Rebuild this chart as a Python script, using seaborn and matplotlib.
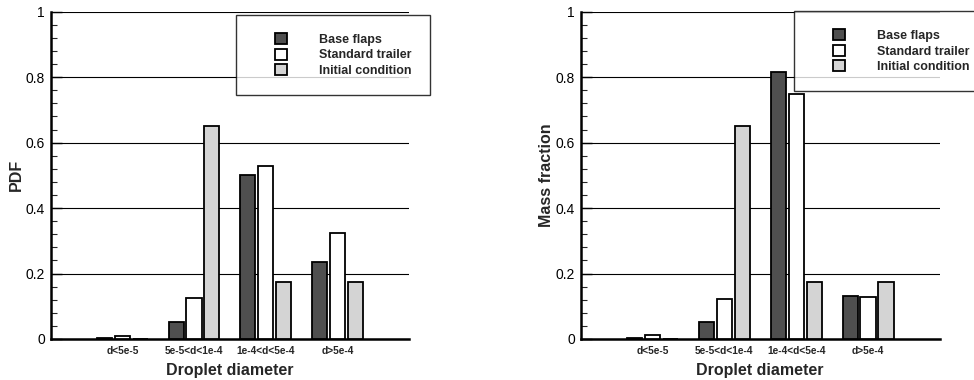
import numpy as np
import pandas as pd
import seaborn as sns
import matplotlib.pyplot as plt
from matplotlib.ticker import MultipleLocator
from matplotlib.patches import Rectangle
from matplotlib.legend_handler import HandlerPatch

# droplet size classes and cases
categories = ["d<5e-5", "5e-5<d<1e-4", "1e-4<d<5e-4", "d>5e-4"]
cases = ["Base flaps", "Standard trailer", "Initial condition"]

# PDF values (left panel)
pdf_base = [0.003, 0.052, 0.500, 0.235]
pdf_standard = [0.008, 0.125, 0.530, 0.325]
pdf_initial = [0.0, 0.650, 0.175, 0.175]

# mass fraction values (right panel)
mass_base = [0.003, 0.053, 0.815, 0.130]
mass_standard = [0.013, 0.122, 0.750, 0.128]
mass_initial = [0.0, 0.650, 0.175, 0.175]

colors = ["#4f4f4f", "#ffffff", "#d4d4d4"]


def make_frame(base, standard, initial):
    rows = []
    for case, vals in zip(cases, [base, standard, initial]):
        for cat, v in zip(categories, vals):
            rows.append({"cat": cat, "case": case, "value": v})
    return pd.DataFrame(rows)


def square_patch(legend, orig_handle, xdescent, ydescent, width, height, fontsize):
    # small square pushed to the right end of the handle box
    side = 1.0 * fontsize
    return Rectangle((-xdescent + width - side, -ydescent), side, height)


sns.set_theme(style="white")
plt.rcParams["font.family"] = ["Liberation Sans", "DejaVu Sans"]

fig = plt.figure(figsize=(9.74, 3.8), dpi=100)
ax1 = fig.add_axes([0.052, 0.108, 0.368, 0.861])
ax2 = fig.add_axes([0.596, 0.108, 0.369, 0.861])

panels = [
    (ax1, make_frame(pdf_base, pdf_standard, pdf_initial), "PDF", (0.517, 0.99)),
    (ax2, make_frame(mass_base, mass_standard, mass_initial), "Mass fraction", (0.594, 1.002)),
]

for ax, df, ylabel, leg_pos in panels:
    sns.barplot(data=df, x="cat", y="value", hue="case", palette=colors,
                edgecolor="black", linewidth=1.3, width=0.75, gap=0.16,
                saturation=1, ax=ax, zorder=3)
    ax.set_xlim(-1, 4)
    ax.set_ylim(0, 1)
    ax.yaxis.set_major_locator(MultipleLocator(0.2))
    ax.yaxis.set_minor_locator(MultipleLocator(0.04))
    ax.set_yticks([0, 0.2, 0.4, 0.6, 0.8, 1.0])
    ax.set_yticklabels(["0", "0.2", "0.4", "0.6", "0.8", "1"])
    ax.yaxis.grid(True, which="major", color="black", linewidth=0.8, zorder=0)
    ax.set_axisbelow(True)
    ax.tick_params(axis="y", which="major", direction="in", length=8, width=1,
                   left=True, labelsize=10, pad=4, colors="black")
    ax.tick_params(axis="y", which="minor", direction="in", length=4, width=0.8, left=True)
    ax.tick_params(axis="x", length=0, labelsize=7.3, pad=5)
    for lbl in ax.get_xticklabels():
        lbl.set_fontweight("bold")
    for side in ["top", "right"]:
        ax.spines[side].set_visible(False)
    for side in ["left", "bottom"]:
        ax.spines[side].set_color("black")
        ax.spines[side].set_linewidth(1.8)
    ax.set_xlabel("Droplet diameter", fontsize=11.5, fontweight="bold", labelpad=5)
    ax.set_ylabel(ylabel, fontsize=11.5, fontweight="bold", labelpad=1)

    handles, labels = ax.get_legend_handles_labels()
    leg = ax.legend(handles, labels, loc="upper left", bbox_to_anchor=leg_pos,
                    frameon=True, fancybox=False, shadow=False, edgecolor="black",
                    prop={"weight": "bold", "size": 9},
                    handler_map={h: HandlerPatch(patch_func=square_patch) for h in handles},
                    handlelength=2.65, handleheight=1.0, handletextpad=2.55,
                    labelspacing=0.2, borderpad=1.45, borderaxespad=0)
    leg.get_frame().set_linewidth(1.0)
    leg.set_clip_on(False)
    for h in leg.legend_handles:
        h.set_edgecolor("black")
        h.set_linewidth(1.3)

fig.savefig("out.png", dpi=100)
